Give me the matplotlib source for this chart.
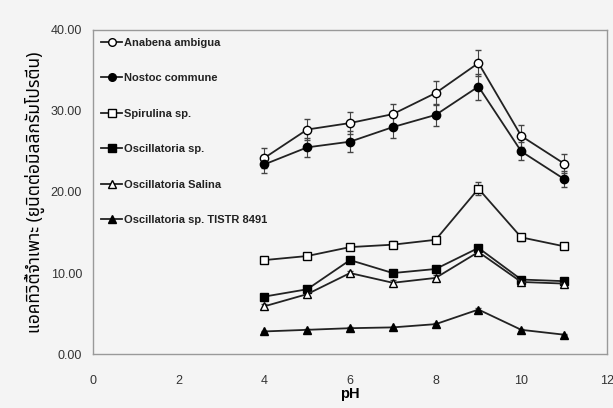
import matplotlib.pyplot as plt
import matplotlib.font_manager as fm
from matplotlib.lines import Line2D

plt.rcParams['font.family'] = ['Liberation Sans', 'DejaVu Sans']

ph = [4, 5, 6, 7, 8, 9, 10, 11]

anabena = [24.2, 27.7, 28.5, 29.6, 32.2, 35.9, 26.9, 23.5]
anabena_err = [1.2, 1.3, 1.4, 1.3, 1.5, 1.6, 1.3, 1.2]
nostoc = [23.4, 25.5, 26.2, 28.0, 29.5, 33.0, 25.0, 21.6]
nostoc_err = [1.1, 1.2, 1.3, 1.3, 1.4, 1.6, 1.1, 1.0]
spirulina = [11.6, 12.1, 13.2, 13.5, 14.1, 20.4, 14.4, 13.3]
spirulina_err = [0.3, 0.3, 0.4, 0.4, 0.4, 0.8, 0.4, 0.3]
osc_sp = [7.1, 8.0, 11.6, 10.0, 10.5, 13.1, 9.2, 9.0]
osc_sp_err = [0.3, 0.3, 0.3, 0.3, 0.3, 0.3, 0.3, 0.3]
osc_salina = [5.9, 7.4, 10.0, 8.8, 9.4, 12.6, 8.9, 8.7]
osc_salina_err = [0.3, 0.3, 0.3, 0.3, 0.3, 0.3, 0.3, 0.3]
tistr = [2.8, 3.0, 3.2, 3.3, 3.7, 5.5, 3.0, 2.4]
tistr_err = [0.1, 0.1, 0.1, 0.1, 0.1, 0.2, 0.1, 0.1]

labels = ['Anabena ambigua', 'Nostoc commune', 'Spirulina sp.',
          'Oscillatoria sp.', 'Oscillatoria Salina', 'Oscillatoria sp. TISTR 8491']
series = [(anabena, anabena_err, 'o', 'white'),
          (nostoc, nostoc_err, 'o', 'black'),
          (spirulina, spirulina_err, 's', 'white'),
          (osc_sp, osc_sp_err, 's', 'black'),
          (osc_salina, osc_salina_err, '^', 'white'),
          (tistr, tistr_err, '^', 'black')]

bg = '#f4f4f4'
fig = plt.figure(figsize=(6.13, 4.08), dpi=100, facecolor=bg)
ax = fig.add_axes([0.152, 0.132, 0.838, 0.795])
ax.set_facecolor(bg)

handles = []
for (y, e, m, fc), lab in zip(series, labels):
    ax.errorbar(ph, y, yerr=e, color='#222222', marker=m, markerfacecolor=fc,
                markeredgecolor='black', markersize=6, linewidth=1.3,
                elinewidth=0.8, capsize=2.5, ecolor='#444444')
    handles.append(Line2D([], [], color='#222222', marker=m, markerfacecolor=fc,
                          markeredgecolor='black', markersize=5.5,
                          linewidth=1.3, label=lab))

ax.set_xlim(0, 12)
ax.set_ylim(0, 40)
ax.set_xticks([0, 2, 4, 6, 8, 10, 12])
ax.set_yticks([0, 10, 20, 30, 40])
ax.set_yticklabels(['0.00', '10.00', '20.00', '30.00', '40.00'])
ax.tick_params(axis='y', length=0, labelsize=9, colors='#333333', pad=8)
ax.tick_params(axis='x', length=0, labelsize=9, colors='#333333', pad=15)
for s in ax.spines.values():
    s.set_color('#999999')
    s.set_linewidth(1.0)

ax.set_xlabel('pH', fontsize=10.5, fontweight='bold', labelpad=0)
thai = [f for f in ['Noto Sans Thai', 'Noto Sans Thai UI', 'Loma', 'Garuda',
                    'Tlwg Typo', 'Waree', 'Norasi']
        if any(f == x.name for x in fm.fontManager.ttflist)]
ax.set_ylabel('แอคทิวิตี้จำเพาะ (ยูนิตต่อมิลลิกรัมโปรตีน)', fontsize=12.5,
              fontweight='bold', family=thai + ['DejaVu Sans'], labelpad=4)

leg = ax.legend(handles=handles, loc='upper left', frameon=False, fontsize=8,
                labelspacing=2.3, handlelength=1.9, handletextpad=0.15,
                borderaxespad=0.3, bbox_to_anchor=(0.0, 1.0))
for t in leg.get_texts():
    t.set_fontweight('bold')
    t.set_color('#222222')

fig.savefig('out.png', dpi=100, facecolor=bg)
